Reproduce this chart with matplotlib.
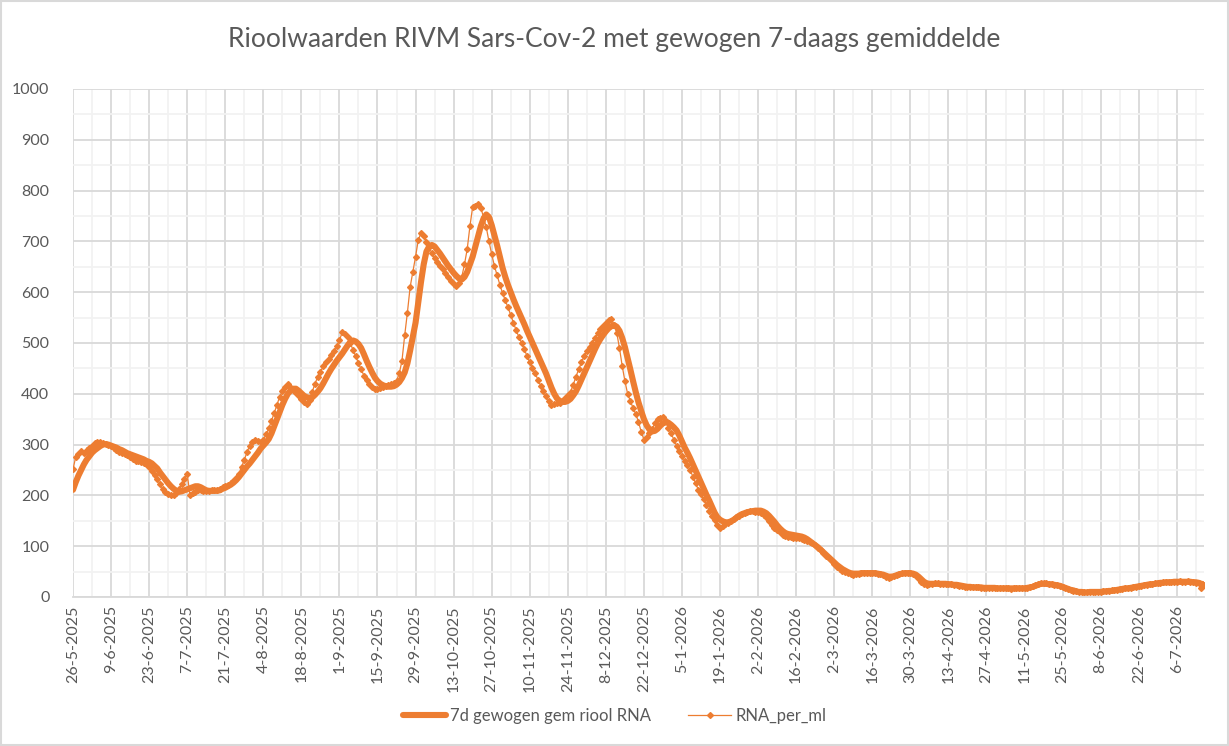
import matplotlib
matplotlib.use("Agg")
import matplotlib.pyplot as plt
from matplotlib.patches import Rectangle
from matplotlib.ticker import MultipleLocator
import pandas as pd

plt.rcParams['font.family'] = ['Lato', 'DejaVu Sans']

start_date = "2025-05-26"

# 7d gewogen gem riool RNA, one value per day, 14 days per row
rna_7d = [
    211, 226, 239, 250, 261, 270, 277, 284, 289, 293, 297, 300, 301, 300,
    298, 296, 294, 291, 289, 286, 283, 281, 279, 277, 275, 273, 271, 268,
    266, 263, 258, 253, 245, 238, 231, 224, 218, 213, 209, 207, 208, 210,
    212, 214, 216, 218, 218, 216, 213, 210, 209, 209, 209, 209, 210, 213,
    215, 218, 221, 225, 230, 236, 243, 250, 257, 263, 270, 277, 284, 292,
    298, 304, 311, 322, 336, 350, 364, 378, 390, 400, 406, 410, 410, 406,
    401, 396, 393, 392, 393, 398, 404, 411, 420, 430, 440, 449, 457, 465,
    472, 479, 487, 495, 502, 505, 503, 498, 490, 478, 465, 453, 442, 432,
    425, 420, 417, 415, 414, 414, 415, 418, 423, 431, 442, 460, 485, 512,
    540, 580, 620, 655, 680, 690, 693, 690, 683, 676, 668, 660, 652, 645,
    638, 632, 627, 625, 630, 640, 655, 670, 690, 710, 730, 745, 753, 748,
    732, 712, 692, 670, 648, 630, 614, 600, 586, 573, 561, 549, 537, 524,
    512, 500, 488, 476, 464, 452, 440, 426, 412, 400, 391, 386, 384, 384,
    386, 390, 397, 405, 416, 428, 440, 452, 464, 476, 488, 499, 508, 516,
    523, 529, 533, 535, 532, 524, 510, 492, 470, 448, 425, 403, 383, 366,
    350, 338, 330, 326, 327, 331, 337, 342, 344, 343, 339, 334, 328, 318,
    306, 294, 284, 273, 261, 249, 237, 225, 213, 201, 190, 178, 166, 157,
    152, 149, 147, 147, 149, 152, 156, 160, 163, 165, 167, 168, 169, 170,
    170, 170, 168, 165, 160, 154, 148, 141, 135, 130, 126, 124, 123, 122,
    121, 120, 119, 117, 114, 110, 106, 102, 98, 93, 88, 83, 78, 73,
    68, 63, 59, 55, 52, 49, 47, 46, 46, 46, 47, 47, 47, 47,
    47, 47, 46, 45, 44, 42, 40, 40, 41, 43, 45, 46, 47, 47,
    47, 46, 44, 40, 35, 30, 27, 26, 26, 26, 26, 26, 26, 26,
    25, 25, 24, 24, 23, 22, 21, 20, 20, 19, 19, 19, 19, 18,
    18, 18, 18, 18, 17, 17, 17, 17, 17, 17, 17, 17, 17, 17,
    17, 18, 19, 20, 22, 24, 26, 26, 26, 25, 25, 24, 23, 22,
    20, 18, 16, 14, 13, 11, 10, 10, 9, 9, 10, 10, 10, 10,
    10, 11, 11, 12, 12, 13, 14, 15, 16, 17, 17, 18, 19, 20,
    21, 22, 23, 24, 25, 25, 26, 27, 28, 28, 29, 29, 29, 30,
    30, 30, 30, 30, 30, 30, 29, 29, 28, 26, 25,
]

# RNA_per_ml, one value per day
rna_per_ml = [
    251, 276, 282, 287, 283, 289, 294, 298, 303, 306, 305, 303, 301, 299,
    297, 294, 290, 286, 284, 281, 279, 276, 271, 267, 268, 266, 264, 262,
    256, 248, 240, 233, 222, 213, 207, 203, 201, 200, 204, 212, 222, 232,
    243, 201, 204, 207, 210, 211, 209, 208, 209, 210, 210, 211, 213, 216,
    218, 221, 225, 229, 234, 243, 256, 270, 285, 298, 305, 309, 307, 306,
    310, 320, 332, 347, 362, 378, 394, 405, 414, 419, 413, 408, 402, 396,
    390, 384, 379, 388, 404, 420, 433, 443, 454, 462, 469, 477, 485, 494,
    505, 521, 518, 512, 500, 486, 474, 460, 448, 436, 427, 420, 414, 410,
    409, 412, 414, 415, 417, 419, 422, 426, 440, 465, 515, 560, 610, 640,
    670, 703, 716, 711, 698, 688, 677, 667, 660, 652, 645, 638, 630, 623,
    617, 612, 618, 630, 655, 685, 730, 768, 770, 774, 766, 748, 728, 700,
    675, 652, 633, 615, 598, 584, 570, 555, 540, 525, 512, 500, 488, 474,
    462, 450, 440, 428, 416, 405, 395, 386, 378, 380, 382, 381, 386, 392,
    398, 404, 418, 434, 448, 462, 474, 484, 492, 500, 510, 520, 528, 534,
    540, 546, 548, 535, 520, 490, 455, 425, 400, 386, 372, 360, 345, 325,
    310, 315, 322, 330, 342, 350, 353, 355, 346, 333, 322, 310, 298, 287,
    278, 268, 259, 250, 237, 224, 211, 202, 192, 182, 170, 160, 151, 142,
    136, 140, 143, 146, 149, 153, 157, 160, 163, 166, 168, 169, 170, 168,
    167, 165, 161, 157, 150, 142, 136, 131, 127, 123, 120, 119, 118, 117,
    116, 116, 114, 112, 110, 108, 106, 102, 97, 92, 87, 81, 76, 70,
    65, 60, 56, 52, 49, 47, 45, 44, 45, 46, 47, 47, 48, 48,
    48, 47, 46, 45, 43, 40, 38, 39, 41, 44, 46, 47, 48, 48,
    47, 45, 41, 36, 30, 26, 24, 25, 26, 27, 27, 26, 26, 26,
    25, 25, 24, 23, 22, 21, 20, 19, 19, 19, 19, 19, 18, 18,
    18, 18, 18, 17, 18, 17, 17, 17, 17, 16, 17, 17, 17, 17,
    17, 18, 19, 21, 23, 26, 27, 28, 27, 26, 25, 24, 23, 21,
    19, 17, 15, 14, 12, 11, 10, 9, 9, 9, 9, 10, 10, 10,
    10, 11, 11, 12, 13, 13, 14, 15, 16, 17, 18, 18, 19, 20,
    21, 22, 23, 24, 25, 26, 27, 28, 28, 29, 29, 30, 30, 30,
    30, 31, 30, 30, 31, 30, 29, 28, 27, 17, 24,
]

dates = pd.date_range(start_date, periods=len(rna_per_ml), freq="D")
tick_dates = pd.date_range(start_date, dates[-1], freq="14D")
tick_labels = [f"{d.day}-{d.month}-{d.year}" for d in tick_dates]
minor_dates = pd.date_range(start_date, dates[-1], freq="7D")

orange = "#ED7D31"
text_col = "#595959"

fig = plt.figure(figsize=(12.29, 7.46), dpi=100)
ax = fig.add_axes([73 / 1229, 1 - 597 / 746, 1131 / 1229, 508 / 746])

ax.plot(dates, rna_7d, color=orange, lw=4.4, solid_capstyle="round",
        label="7d gewogen gem riool RNA", zorder=3)
ax.plot(dates, rna_per_ml, color=orange, lw=0.9, marker="D", markersize=3,
        label="RNA_per_ml", zorder=4)

ax.set_xlim(dates[0], dates[-1])
ax.set_ylim(0, 1000)
ax.set_xticks(tick_dates)
ax.set_xticklabels(tick_labels, rotation=90)
ax.set_xticks(minor_dates, minor=True)
ax.yaxis.set_major_locator(MultipleLocator(100))
ax.yaxis.set_minor_locator(MultipleLocator(50))

ax.grid(which="major", color="#D9D9D9", lw=1.3, zorder=0)
ax.grid(which="minor", color="#F2F2F2", lw=1.3, zorder=0)
ax.set_axisbelow(True)
for s in ["top", "right", "left"]:
    ax.spines[s].set_visible(False)
ax.spines["bottom"].set_color("#D9D9D9")
ax.spines["bottom"].set_linewidth(1.3)

ax.tick_params(which="both", length=0)
ax.tick_params(axis="y", pad=17, labelsize=11.5, labelcolor=text_col)
ax.tick_params(axis="x", pad=6, labelsize=11.5, labelcolor=text_col)

fig.text(0.5, 1 - 40 / 746, "Rioolwaarden RIVM Sars-Cov-2 met gewogen 7-daags gemiddelde",
         ha="center", va="center", fontsize=19, color=text_col)

leg = fig.legend(loc="center", bbox_to_anchor=(0.5, 1 - 716 / 746), ncol=2,
                 frameon=False, fontsize=12, handlelength=2.6, columnspacing=2.2,
                 handletextpad=0.25)
for t in leg.get_texts():
    t.set_color(text_col)

fig.patches.append(Rectangle((0.001, 0.001), 0.998, 0.997, transform=fig.transFigure,
                             fill=False, edgecolor="#D9D9D9", lw=1.5))

fig.savefig("out.png", dpi=100)
